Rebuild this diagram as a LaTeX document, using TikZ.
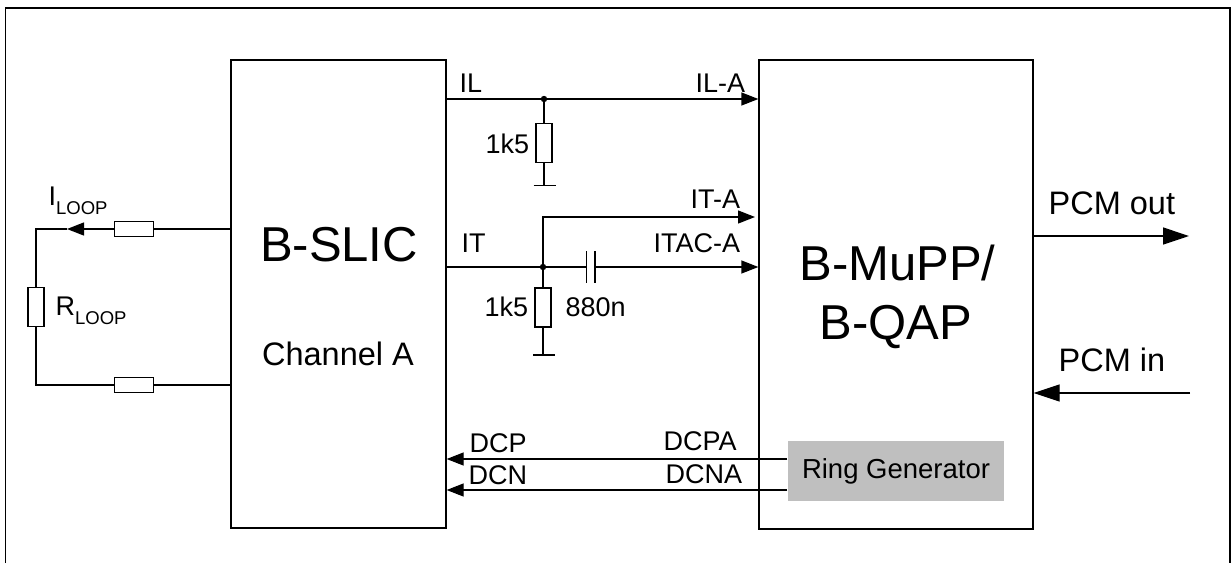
\documentclass[tikz,border=0pt]{standalone}
\usepackage{fontspec}
\setmainfont{Liberation Sans}
\usetikzlibrary{arrows.meta}
\begin{document}
\begin{tikzpicture}[x=1pt,y=-1pt,line width=1.3pt]
	\tikzset{block/.style={draw, inner sep=0pt, minimum width=#1, minimum height=468pt}}
	\tikzset{resh/.style={draw, fill=white, inner sep=0pt, minimum width=39pt, minimum height=15pt}}
	\tikzset{resv/.style={draw, fill=white, inner sep=0pt, minimum width=16pt, minimum height=39pt}}
	\tikzset{junct/.style={draw, circle, inner sep=0pt, minimum size=5pt, fill=black}}
	\tikzset{lab/.style={inner sep=0pt, anchor=base west, font=\fontsize{27}{27}\selectfont}}
	\tikzset{big/.style={inner sep=0pt, anchor=base, font=\fontsize{49}{49}\selectfont}}
	\tikzset{pcm/.style={inner sep=0pt, anchor=base west, font=\fontsize{32.5}{32.5}\selectfont}}
	\tikzset{sig/.style={-{Triangle[length=17pt,width=13pt]}}}
	\tikzset{bus/.style={-{Triangle[length=26pt,width=17pt]}}}
	\newcommand{\subloop}{{\fontsize{18.5}{18.5}\selectfont\raisebox{-9.5pt}{LOOP}}}
	\useasboundingbox (0,0) rectangle (1231,563);
%% Frame
	\draw (5.5,563) |- (1230,8) -- (1230,563);
%% Blocks
	\node[block=215pt] (slic) at (338.5,294) {};
	\node[block=274pt, minimum height=469pt] (qap) at (896,294.5) {};
	\node[fill=black!25, inner sep=0pt, minimum width=216pt, minimum height=60pt, font=\fontsize{27.5}{27.5}\selectfont] (ring) at (896,471) {Ring Generator};
	\node[big] (slicname) at (339,261) {B-SLIC};
	\node[pcm, anchor=base] (chan) at (338,365) {Channel A};
	\node[big] (qapname1) at (897.5,280) {B-MuPP/};
	\node[big] (qapname2) at (896,339) {B-QAP};
%% Loop
	\coordinate (lt) at (36,229);
	\coordinate (lb) at (36,385);
	\node[resh] (r1) at (134,229) {};
	\node[resh] (r2) at (134,385) {};
	\node[resv] (r3) at (36,307) {};
	\coordinate (iarrow) at (67,229);
	\draw (slic.west |- r1) -- (r1);
	\draw[sig] (r1) -- (iarrow);
	\draw (iarrow) -- (lt) -- (r3) -- (lb) -- (r2) -- (slic.west |- r2);
	\node[lab] (iloop) at (48,205) {I\subloop};
	\node[lab] (rloop) at (55,315) {R\subloop};
%% IL
	\node[junct] (j1) at (544,99) {};
	\node[resv] (r4) at (544,143) {};
	\coordinate (g1) at (544,185.5);
	\coordinate (g1a) at (533.5,185.5);
	\coordinate (g1b) at (555.5,185.5);
	\draw (slic.east |- j1) -- (j1);
	\draw[sig] (j1) -- (qap.west |- j1);
	\draw (j1) -- (r4) -- (g1);
	\draw (g1a) -- (g1b);
	\node[lab] (il) at (459,92) {IL};
	\node[lab] (ila) at (695,92) {IL-A};
	\node[lab] (v1) at (485,153) {1k5};
%% IT
	\node[junct] (j2) at (543,267) {};
	\node[resv] (r5) at (543,307.5) {};
	\coordinate (g2) at (543,355);
	\coordinate (g2a) at (533,355);
	\coordinate (g2b) at (555,355);
	\coordinate (ita) at (755,217);
	\coordinate (itb) at (543,217);
	\coordinate (c1) at (586.7,267);
	\coordinate (c2) at (595,267);
	\coordinate (c1a) at (586.7,251);
	\coordinate (c1b) at (586.7,283);
	\coordinate (c2a) at (595,251);
	\coordinate (c2b) at (595,283);
	\draw (slic.east |- j2) -- (j2) -- (c1);
	\draw (c1a) -- (c1b);
	\draw (c2a) -- (c2b);
	\draw[sig] (c2) -- (qap.west |- c2);
	\draw[sig] (j2) -- (itb) -- (ita);
	\draw (j2) -- (r5) -- (g2);
	\draw (g2a) -- (g2b);
	\node[lab] (it) at (461,252) {IT};
	\node[lab] (itlab) at (690,208) {IT-A};
	\node[lab] (itac) at (653,252) {ITAC-A};
	\node[lab] (v2) at (484,316) {1k5};
	\node[lab] (v3) at (565,316) {880n};
%% DC feed
	\draw[sig] (ring.west |- 0,459) -- (slic.east |- 0,459);
	\draw[sig] (ring.west |- 0,490) -- (slic.east |- 0,490);
	\node[lab] (dcp) at (469,452) {DCP};
	\node[lab] (dcn) at (468,484) {DCN};
	\node[lab] (dcpa) at (663,450) {DCPA};
	\node[lab] (dcna) at (665,483) {DCNA};
%% PCM
	\coordinate (pout) at (1189,236);
	\coordinate (pin) at (1190,393);
	\draw[bus] (qap.east |- pout) -- (pout);
	\draw[bus] (pin) -- (qap.east |- pin);
	\node[pcm] (pcmo) at (1048,214) {PCM out};
	\node[pcm] (pcmi) at (1058,371) {PCM in};
\end{tikzpicture}
\end{document}
